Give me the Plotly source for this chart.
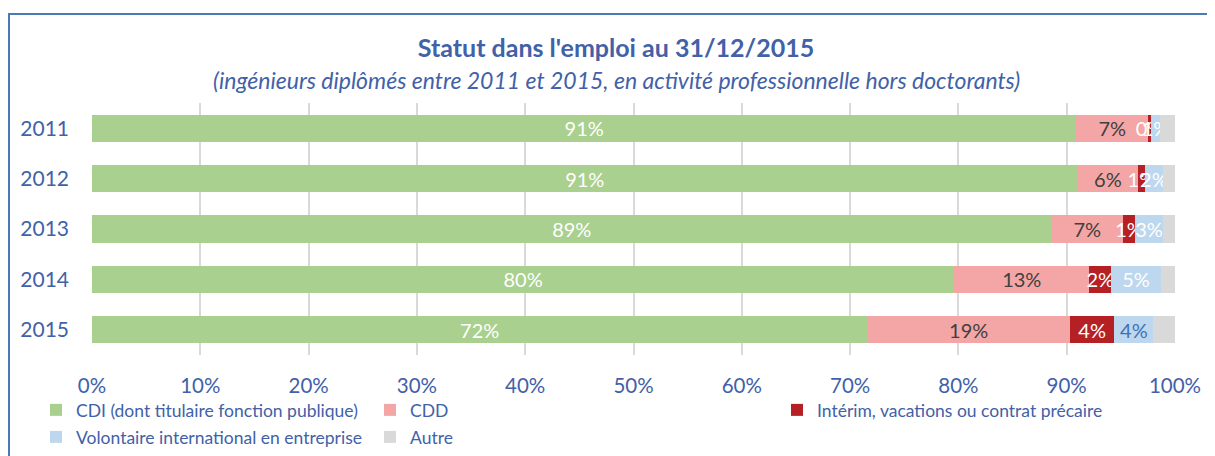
import plotly.graph_objects as go

years = ["2011", "2012", "2013", "2014", "2015"]
cdi = [90.9, 91.0, 88.6, 79.6, 71.6]
cdd = [6.6, 5.6, 6.6, 12.5, 18.7]
interim = [0.3, 0.6, 1.1, 2.0, 4.1]
vie = [0.8, 1.7, 2.6, 4.6, 3.6]
autre = [1.4, 1.1, 1.1, 1.3, 2.0]

series_names = [
    "CDI (dont titulaire fonction publique)",
    "CDD",
    "Intérim, vacations ou contrat précaire",
    "Volontaire international en entreprise",
    "Autre",
]
tick_vals = [0, 10, 20, 30, 40, 50, 60, 70, 80, 90, 100]
tick_text = [f"{v}%" for v in tick_vals]

FONT = "Lato"
BLUE = "#4161A8"
colors = ["#A9D08E", "#F4A6A6", "#B52025", "#BDD7EE", "#D9D9D9"]
label_colors = [
    ["white"] * 5,
    ["#404040"] * 5,
    ["white"] * 5,
    ["white", "white", "white", "white", "#3D72B5"],
    ["white"] * 5,
]
show_labels = [True, True, True, True, False]
data = [cdi, cdd, interim, vie, autre]
legend_ids = ["legend", "legend2", "legend3", "legend4", "legend5"]

fig = go.Figure()
for i, (name, vals) in enumerate(zip(series_names, data)):
    fig.add_trace(go.Bar(
        y=years, x=vals, name=name, orientation="h",
        marker=dict(color=colors[i], line=dict(width=0)),
        texttemplate="%{x:.0f}%" if show_labels[i] else None,
        textposition="inside" if show_labels[i] else "none",
        insidetextanchor="middle",
        textangle=0,
        textfont=dict(family=FONT, size=20, color=label_colors[i]),
        hoverinfo="skip",
        legend=legend_ids[i],
    ))

# the page body adds an 8px offset, so layout is laid out in (reference - 8) px
OFF = 8
W, H = 1215 - OFF, 456 - OFF
ml, mr, mt, mb = 92 - OFF, W - (1175 - OFF), 103 - OFF, H - (355 - OFF)
pw = W - ml - mr
ph = H - mt - mb


def px_x(p):
    return (p - OFF - ml) / pw


def px_y(p):
    return 1 - (p - OFF - mt) / ph


leg_common = dict(orientation="h", bgcolor="rgba(0,0,0,0)",
                  font=dict(family=FONT, size=17.5, color=BLUE),
                  xref="container", yref="container",
                  xanchor="left", yanchor="middle", itemwidth=30)
col_x = [(36 - OFF) / W, (370 - OFF) / W, (777 - OFF) / W]
row_y = [1 - (410 - OFF) / H, 1 - (437 - OFF) / H]

fig.update_layout(
    width=W, height=H,
    margin=dict(l=ml, r=mr, t=mt, b=mb, autoexpand=False),
    barmode="stack", bargap=0.46,
    plot_bgcolor="white", paper_bgcolor="white",
    font=dict(family=FONT, color=BLUE),
    showlegend=True,
    uniformtext=dict(minsize=20, mode="show"),
    title=dict(
        text="<b>Statut dans l'emploi au 31/12/2015</b>",
        font=dict(family=FONT, size=25, color=BLUE),
        xref="container", yref="container",
        x=(616 - OFF) / W, xanchor="center", y=1 - (48 - OFF) / H, yanchor="middle",
    ),
    xaxis=dict(range=[0, 100], tickvals=tick_vals, ticktext=tick_text,
               showgrid=True, gridcolor="#D9D9D9", gridwidth=1.5,
               zeroline=False, showline=False, ticks="", automargin=False,
               ticklabelstandoff=16,
               tickfont=dict(family=FONT, size=20.5, color=BLUE), fixedrange=True),
    yaxis=dict(autorange="reversed", showgrid=False, zeroline=False,
               showline=False, ticks="", ticklabelstandoff=22, automargin=False,
               tickfont=dict(family=FONT, size=21, color=BLUE)),
    legend=dict(**leg_common, x=col_x[0], y=row_y[0]),
    legend2=dict(**leg_common, x=col_x[1], y=row_y[0]),
    legend3=dict(**leg_common, x=col_x[2], y=row_y[0]),
    legend4=dict(**leg_common, x=col_x[0], y=row_y[1]),
    legend5=dict(**leg_common, x=col_x[1], y=row_y[1]),
    annotations=[dict(
        text="<i>(ingénieurs diplômés entre 2011 et 2015, en activité professionnelle hors doctorants)</i>",
        xref="paper", yref="paper", x=px_x(616), y=px_y(80),
        xanchor="center", yanchor="middle", showarrow=False,
        font=dict(family=FONT, size=23, color=BLUE),
    )],
    shapes=[dict(
        type="path", xref="paper", yref="paper",
        path=f"M {px_x(9)} {px_y(470)} L {px_x(9)} {px_y(14)} L {px_x(1240)} {px_y(14)}",
        line=dict(color="#4A7AB5", width=2),
    )],
)

fig.write_html("out.html")
